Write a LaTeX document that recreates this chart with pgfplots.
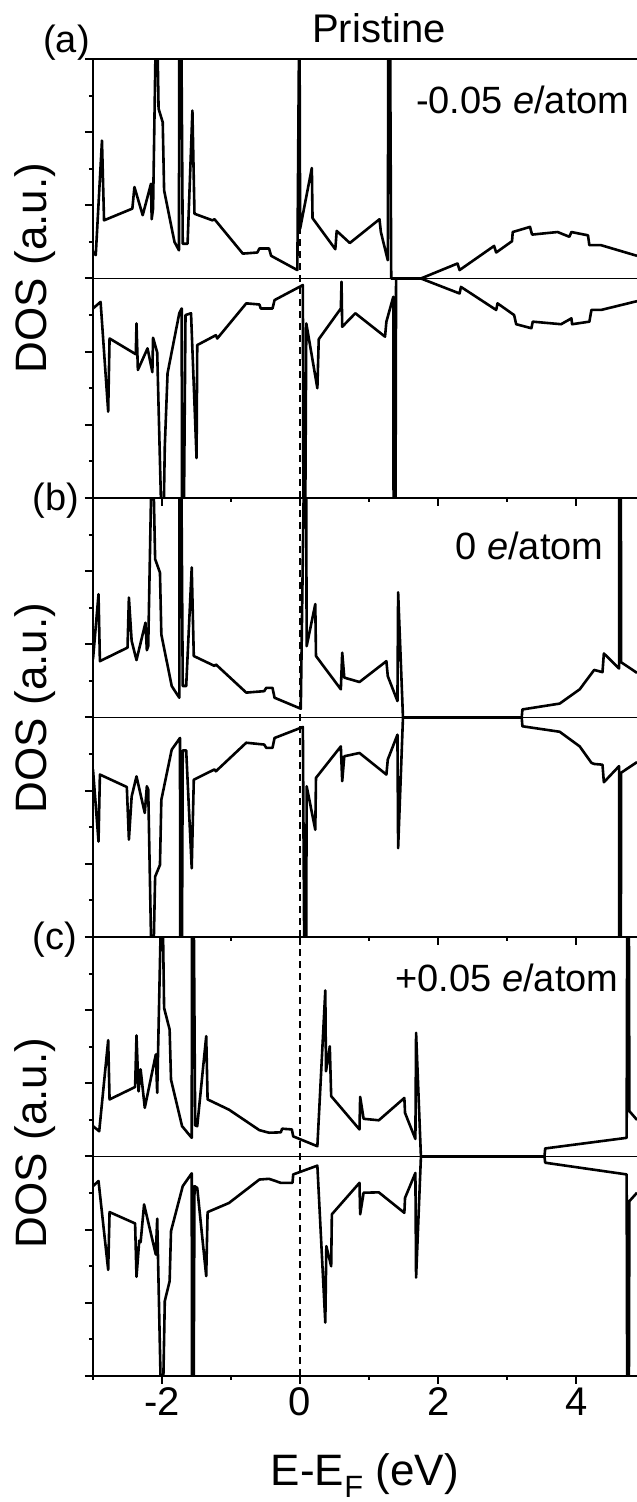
\documentclass[border=0pt]{standalone}
\usepackage{fontspec}
\setmainfont{Liberation Sans}
\usepackage{pgfplots}
\pgfplotsset{compat=1.18}
\begin{document}
\begin{tikzpicture}
\useasboundingbox (-93pt,-126pt) rectangle (544pt,1376pt);
\pgfplotsset{
 dospanel/.style={
   width=544pt, height=439pt, scale only axis,
   xmin=-3, xmax=4.88, ymin=-6, ymax=6,
   axis x line*=box, axis y line*=left,
   axis line style={-, line width=2.4pt},
   xtick={-2,0,2,4}, minor xtick={-3,-1,1,3},
   ytick={-6,-4,...,6}, minor ytick={-5,-3,...,5},
   yticklabels={},
   xtick pos=left, ytick pos=left,
   tick align=outside,
   major tick length=8pt, minor tick length=4pt,
   tick style={black, line width=2pt},
   clip=true,
   anchor=south west,
 },
 curve/.style={black, line width=2.6pt, line join=round, mark=none},
 zero/.style={black, line width=1.7pt, mark=none},
 fermi/.style={black, line width=2pt, dash pattern=on 7pt off 5pt, mark=none},
}
% ---------------- (a) ----------------
\begin{axis}[dospanel, at={(0pt,878pt)}, xticklabels={}]
\addplot[zero] coordinates {(-3,0) (4.88,0)};
\addplot[fermi] coordinates {(0,-6) (0,6)};
\addplot[curve] coordinates {
(-3.0,0.73) (-2.96,0.64) (-2.87,3.77) (-2.84,1.59) (-2.43,1.91) (-2.40,2.50)
(-2.28,1.73) (-2.16,2.59) (-2.15,1.62) (-2.13,1.91) (-2.08,8) (-2.05,4.64)
(-1.99,4.27) (-1.97,2.41) (-1.82,1.00) (-1.755,0.77) (-1.75,8) (-1.725,8)
(-1.70,0.95) (-1.63,0.95) (-1.56,4.59) (-1.53,1.77) (-1.27,1.59) (-1.24,1.62)
(-0.83,0.68) (-0.62,0.71) (-0.59,0.82) (-0.45,0.82) (-0.42,0.62) (-0.04,0.23)
(-0.01,8) (0.0,1.36) (0.17,3.02) (0.18,1.65) (0.51,0.80) (0.53,1.30)
(0.72,0.97) (1.15,1.62) (1.17,1.27) (1.27,0.50) (1.28,8) (1.30,8) (1.32,0)
(1.75,0) (2.28,0.41) (2.31,0.23) (2.81,0.89) (2.84,0.71) (3.07,1.02) (3.08,1.27)
(3.33,1.41) (3.36,1.20) (3.73,1.27) (3.90,1.14) (3.93,1.27) (4.17,1.18)
(4.19,0.91) (4.36,0.91) (4.88,0.62)};
\addplot[curve] coordinates {
(-3.0,-0.82) (-2.89,-0.64) (-2.78,-3.64) (-2.76,-1.64) (-2.38,-2.07) (-2.37,-1.23)
(-2.35,-2.50) (-2.21,-1.91) (-2.14,-2.56) (-2.13,-1.62) (-2.07,-2.02) (-1.99,-8)
(-1.96,-4.59) (-1.92,-2.59) (-1.75,-0.95) (-1.715,-0.82) (-1.71,-8) (-1.69,-8)
(-1.66,-1.00) (-1.58,-0.95) (-1.50,-4.91) (-1.49,-1.82) (-1.22,-1.55) (-1.20,-1.64)
(-0.78,-0.68) (-0.59,-0.71) (-0.57,-0.82) (-0.40,-0.82) (-0.37,-0.59) (0.04,-0.18)
(0.05,-8) (0.07,-8) (0.09,-1.23) (0.25,-3.00) (0.27,-1.66) (0.59,-0.82) (0.60,-0.09)
(0.61,-1.32) (0.80,-0.95) (1.23,-1.59) (1.25,-1.18) (1.35,-0.50) (1.355,-8)
(1.38,-8) (1.39,0) (1.75,0) (2.31,-0.41) (2.33,-0.23) (2.84,-0.86) (2.86,-0.68)
(3.10,-1.00) (3.13,-1.25) (3.35,-1.36) (3.37,-1.18) (3.78,-1.25) (3.93,-1.09)
(3.94,-1.25) (4.19,-1.18) (4.22,-0.86) (4.36,-0.86) (4.88,-0.62)};
\end{axis}
% ---------------- (b) ----------------
\begin{axis}[dospanel, at={(0pt,439pt)}, xticklabels={}]
\addplot[zero] coordinates {(-3,0) (4.88,0)};
\addplot[fermi] coordinates {(0,-6) (0,6)};
\addplot[curve] coordinates {
(-3.0,1.59) (-2.92,3.37) (-2.90,1.54) (-2.50,1.91) (-2.48,3.28) (-2.44,2.09)
(-2.37,1.57) (-2.24,2.59) (-2.22,1.84) (-2.20,1.95) (-2.14,8) (-2.10,4.33)
(-2.03,3.96) (-2.01,2.27) (-1.86,0.86) (-1.75,0.54) (-1.745,8) (-1.725,8)
(-1.70,0.86) (-1.65,0.86) (-1.57,4.10) (-1.54,1.68) (-1.24,1.41) (-1.22,1.45)
(-0.78,0.68) (-0.52,0.72) (-0.49,0.81) (-0.40,0.81) (-0.37,0.54) (0.01,0.24)
(0.065,8) (0.085,8) (0.095,1.95) (0.22,3.10) (0.23,1.68) (0.59,0.77) (0.61,1.77)
(0.64,1.09) (0.86,0.97) (1.25,1.54) (1.27,1.13) (1.41,0.45) (1.42,3.42) (1.49,0)
(3.21,0) (3.22,0.22) (3.76,0.38) (4.05,0.77) (4.26,1.30) (4.38,1.24) (4.40,1.75)
(4.62,1.34) (4.625,8) (4.645,8) (4.65,1.51) (4.88,1.22)};
\addplot[curve] coordinates {
(-3.0,-1.42) (-2.92,-3.39) (-2.90,-1.56) (-2.51,-1.90) (-2.48,-3.34) (-2.44,-2.16)
(-2.37,-1.61) (-2.25,-2.61) (-2.22,-1.88) (-2.20,-1.97) (-2.14,-8) (-2.10,-4.35)
(-2.03,-4.03) (-2.01,-2.25) (-1.86,-0.88) (-1.74,-0.56) (-1.735,-8) (-1.715,-8)
(-1.70,-0.90) (-1.65,-0.90) (-1.57,-4.12) (-1.54,-1.70) (-1.24,-1.42) (-1.22,-1.47)
(-0.78,-0.69) (-0.52,-0.74) (-0.49,-0.83) (-0.40,-0.83) (-0.37,-0.56) (0.04,-0.26)
(0.065,-8) (0.085,-8) (0.095,-1.88) (0.22,-3.07) (0.23,-1.65) (0.59,-0.79)
(0.61,-1.74) (0.64,-1.06) (0.86,-0.97) (1.25,-1.56) (1.27,-1.15) (1.41,-0.47)
(1.42,-3.57) (1.49,0) (3.21,0) (3.22,-0.24) (3.76,-0.39) (4.05,-0.79) (4.22,-1.24)
(4.26,-1.27) (4.38,-1.29) (4.40,-1.77) (4.62,-1.33) (4.625,-8) (4.645,-8)
(4.65,-1.51) (4.88,-1.22)};
\end{axis}
% ---------------- (c) ----------------
\begin{axis}[dospanel, at={(0pt,0pt)}, xticklabels={-2,0,2,4},
  xticklabel style={font=\fontsize{40}{48}\selectfont}]
\addplot[zero] coordinates {(-3,0) (4.88,0)};
\addplot[fermi] coordinates {(0,-6) (0,6)};
\addplot[curve] coordinates {
(-3.0,0.83) (-2.91,0.69) (-2.78,3.18) (-2.76,1.56) (-2.39,1.90) (-2.37,3.31)
(-2.34,1.78) (-2.31,2.38) (-2.25,1.33) (-2.09,2.79) (-2.07,1.74) (-2.00,8)
(-1.97,4.06) (-1.89,3.47) (-1.87,2.10) (-1.71,0.83) (-1.57,0.51) (-1.565,8)
(-1.545,8) (-1.52,0.85) (-1.49,0.83) (-1.36,3.29) (-1.34,1.56) (-1.03,1.28)
(-0.59,0.72) (-0.45,0.65) (-0.28,0.66) (-0.26,0.76) (-0.12,0.74) (-0.10,0.55)
(0.25,0.28) (0.365,4.54) (0.375,2.33) (0.43,3.01) (0.45,1.65) (0.86,0.74)
(0.87,1.63) (0.92,1.03) (1.14,0.99) (1.51,1.60) (1.52,1.19) (1.67,0.48)
(1.68,3.38) (1.75,0) (3.54,0) (3.55,0.22) (4.73,0.51) (4.74,8) (4.76,8)
(4.77,1.24) (4.88,1.00)};
\addplot[curve] coordinates {
(-3.0,-0.81) (-2.92,-0.67) (-2.78,-3.10) (-2.76,-1.52) (-2.39,-1.83) (-2.37,-3.29)
(-2.33,-2.30) (-2.31,-2.34) (-2.26,-1.31) (-2.09,-2.68) (-2.07,-1.70) (-2.00,-8)
(-1.96,-3.95) (-1.89,-3.41) (-1.87,-2.04) (-1.70,-0.81) (-1.57,-0.46) (-1.565,-8)
(-1.545,-8) (-1.53,-0.81) (-1.49,-0.86) (-1.36,-3.27) (-1.34,-1.52) (-1.03,-1.27)
(-0.59,-0.63) (-0.45,-0.61) (-0.28,-0.72) (-0.11,-0.72) (-0.10,-0.49) (0.25,-0.25)
(0.365,-4.54) (0.38,-2.45) (0.45,-3.00) (0.46,-1.58) (0.86,-0.72) (0.87,-1.58)
(0.92,-0.99) (1.14,-0.98) (1.51,-1.54) (1.52,-1.13) (1.67,-0.45) (1.68,-3.31)
(1.75,0) (3.54,0) (3.55,-0.17) (4.73,-0.49) (4.74,-8) (4.76,-8) (4.77,-1.22)
(4.88,-0.99)};
\end{axis}
% ---------------- labels ----------------
\node[font=\fontsize{38}{44}\selectfont] at (-26.5pt,1333pt) {(a)};
\node[font=\fontsize{38}{44}\selectfont] at (-37pt,875pt) {(b)};
\node[font=\fontsize{38}{44}\selectfont] at (-38pt,436pt) {(c)};
\node[anchor=base, font=\fontsize{40}{48}\selectfont] at (286pt,1333pt) {Pristine};
\node[anchor=base east, font=\fontsize{38}{44}\selectfont] at (540pt,1262pt) {-0.05 \textit{e}/atom};
\node[anchor=base east, font=\fontsize{38}{44}\selectfont] at (514pt,816pt) {0 \textit{e}/atom};
\node[anchor=base east, font=\fontsize{38}{44}\selectfont] at (529pt,384pt) {+0.05 \textit{e}/atom};
\node[rotate=90, font=\fontsize{44}{52}\selectfont] at (-58pt,1108pt) {DOS (a.u.)};
\node[rotate=90, font=\fontsize{44}{52}\selectfont] at (-58pt,668pt) {DOS (a.u.)};
\node[rotate=90, font=\fontsize{44}{52}\selectfont] at (-58pt,233pt) {DOS (a.u.)};
\node[anchor=base, font=\fontsize{44}{52}\selectfont] at (272pt,-109pt) {E-E\textsubscript{F} (eV)};
\end{tikzpicture}
\end{document}
